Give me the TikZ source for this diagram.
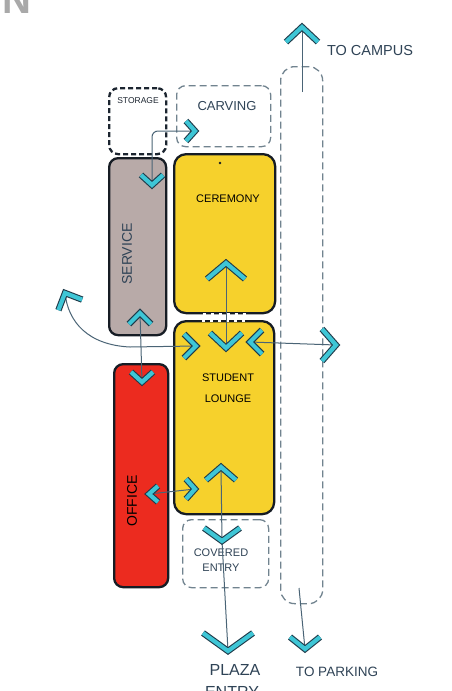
\documentclass[tikz,border=0pt]{standalone}
\usepackage{fontspec}
\setmainfont{Liberation Sans}
\definecolor{chevcyan}{HTML}{3EC6D6}
\definecolor{chevdark}{HTML}{1F3B4A}
\definecolor{flowcol}{HTML}{4A6476}
\definecolor{dashcol}{HTML}{71838F}
\definecolor{storecol}{HTML}{1C2530}
\definecolor{boxline}{HTML}{161C24}
\definecolor{svcgray}{HTML}{B8AAA8}
\definecolor{yel}{HTML}{F6D12C}
\definecolor{offred}{HTML}{EC2B1F}
\definecolor{txtblue}{HTML}{2F4356}
\definecolor{ngray}{HTML}{A9A9A9}
\tikzset{
  solidbox/.style={draw=boxline, line width=2.3pt, rounded corners=9pt, inner sep=0pt, anchor=north west},
  dashbox/.style={draw=dashcol, line width=1.3pt, dash pattern=on 7pt off 4pt, rounded corners=9pt, inner sep=0pt, anchor=north west},
  flow/.style={draw=flowcol, line width=1pt},
  chevout/.style={draw=chevdark, line width=6.4pt, line cap=butt, line join=miter},
  chevin/.style={draw=chevcyan, line width=4.2pt, line cap=butt, line join=miter},
  lab/.style={inner sep=0pt, text=txtblue},
  pics/chev/.style 2 args={code={
    \draw[chevout] (-#1,#2) -- (0,0) -- (#1,#2);
    \draw[chevin] (-#1,#2) -- (0,0) -- (#1,#2);}}
}
\begin{document}
\begin{tikzpicture}[x=1pt,y=-1pt]
\useasboundingbox (0,0) rectangle (452,691);
\clip (0,0) rectangle (452,691);
\fill[white] (0,0) rectangle (452,691);

% north sign
\node[inner sep=0pt, anchor=base west, text=ngray, font=\fontsize{40}{40}\selectfont\bfseries] (north) at (2,13) {N};

% boxes
\node[dashbox, draw=storecol, line width=2.3pt, dash pattern=on 5pt off 3pt, minimum width=57pt, minimum height=66pt] (storage) at (108,87) {};
\node[dashbox, minimum width=94pt, minimum height=61pt] (carving) at (176,85) {};
\node[dashbox, rounded corners=14pt, minimum width=42pt, minimum height=537pt] (path) at (280,66) {};
\node[solidbox, fill=svcgray, minimum width=57pt, minimum height=177pt] (service) at (108,157) {};
\node[solidbox, fill=yel, rounded corners=12pt, minimum width=101pt, minimum height=159pt] (ceremony) at (173,153) {};
\node[solidbox, fill=yel, rounded corners=12pt, minimum width=100pt, minimum height=193pt] (lounge) at (173,320) {};
\node[solidbox, fill=offred, minimum width=54pt, minimum height=223pt] (office) at (113,363) {};
\node[dashbox, minimum width=86pt, minimum height=68pt] (covered) at (182,519) {};

% broken edges between ceremony and lounge
\draw[white, line width=3pt, dash pattern=on 3pt off 5pt] (ceremony.south) ++(-22,0) -- ++(44,0);
\draw[white, line width=3pt, dash pattern=on 3pt off 5pt] (lounge.north) ++(-22,0) -- ++(44,0);
\fill[boxline] (220,163) circle (1.3pt);

% labels
\node[lab, text=storecol, font=\fontsize{8.5}{9}\selectfont] (lstorage) at (138,101) {STORAGE};
\node[lab, font=\fontsize{13}{14}\selectfont] (lcarving) at (227,106) {CARVING};
\node[lab, font=\fontsize{14.5}{15}\selectfont] (lcampus) at (370,51) {TO CAMPUS};
\node[lab, text=black, font=\fontsize{11}{12}\selectfont] (lceremony) at (228,199) {CEREMONY};
\node[lab, text=black, align=center, font=\fontsize{11}{21}\selectfont] (llounge) at (228,388) {STUDENT\\LOUNGE};
\node[lab, text=txtblue, rotate=90, font=\fontsize{14}{15}\selectfont] (lservice) at (127,254) {SERVICE};
\node[lab, text=black, rotate=90, font=\fontsize{14}{15}\selectfont] (loffice) at (132,501) {OFFICE};
\node[lab, align=center, font=\fontsize{11}{15}\selectfont] (lcovered) at (221,560) {COVERED\\ENTRY};
\node[lab, font=\fontsize{16}{17}\selectfont] (lplaza) at (235,670) {PLAZA};
\node[lab, font=\fontsize{16}{17}\selectfont] (lentry) at (232,692) {ENTRY};
\node[lab, font=\fontsize{13.5}{14}\selectfont] (lparking) at (337,672) {TO PARKING};

% chevron tips
\coordinate (campusTip) at (302,27);
\coordinate (campusStart) at (302,92);
\coordinate (carvTip) at (195,131);
\coordinate (svcDown) at (152,185);
\coordinate (cerUp) at (226,263);
\coordinate (lngDown) at (226,348);
\coordinate (svcUp) at (140,313);
\coordinate (offDown) at (142,382);
\coordinate (leftR) at (196,346);
\coordinate (farL) at (65,293);
\coordinate (lngL) at (250,342);
\coordinate (farR) at (336,345);
\coordinate (offL) at (149,494);
\coordinate (lngR) at (195,489);
\coordinate (lngUp) at (221,467);
\coordinate (covDown) at (222,541);
\coordinate (plazaDown) at (228,651);
\coordinate (parkStart) at (299,588);
\coordinate (parkDown) at (305,649);

% connectors
\draw[flow] (campusStart) -- (campusTip);
\draw[flow, rounded corners=6pt] (svcDown) |- (carvTip);
\draw[flow] (cerUp) -- (lngDown);
\draw[flow] (svcUp) -- (offDown);
\draw[flow] (leftR) -- (130,347) .. controls (88,345) and (68,322) .. (farL);
\draw[flow] (lngL) -- (farR);
\draw[flow] (offL) -- (lngR);
\draw[flow] (lngUp) -- (covDown) -- (plazaDown);
\draw[flow] (parkStart) -- (parkDown);

% chevrons
\pic at (campusTip) {chev={16}{15}};
\pic[rotate=-90] at (carvTip) {chev={10}{9}};
\pic[rotate=180] at (svcDown) {chev={11}{10}};
\pic at (cerUp) {chev={19}{16}};
\pic[rotate=180] at (lngDown) {chev={16}{15}};
\pic at (svcUp) {chev={11}{11}};
\pic[rotate=180] at (offDown) {chev={11}{10}};
\pic[rotate=-90] at (leftR) {chev={12}{12}};
\pic[rotate=24] at (farL) {chev={13}{13}};
\pic[rotate=90] at (lngL) {chev={12}{12}};
\pic[rotate=-90] at (farR) {chev={16}{14}};
\pic[rotate=90] at (offL) {chev={8}{9}};
\pic[rotate=-90] at (lngR) {chev={10}{9}};
\pic at (lngUp) {chev={15}{13}};
\pic[rotate=180] at (covDown) {chev={18}{13}};
\pic[rotate=180] at (plazaDown) {chev={25}{18}};
\pic[rotate=180] at (parkDown) {chev={15}{12}};
\end{tikzpicture}
\end{document}
